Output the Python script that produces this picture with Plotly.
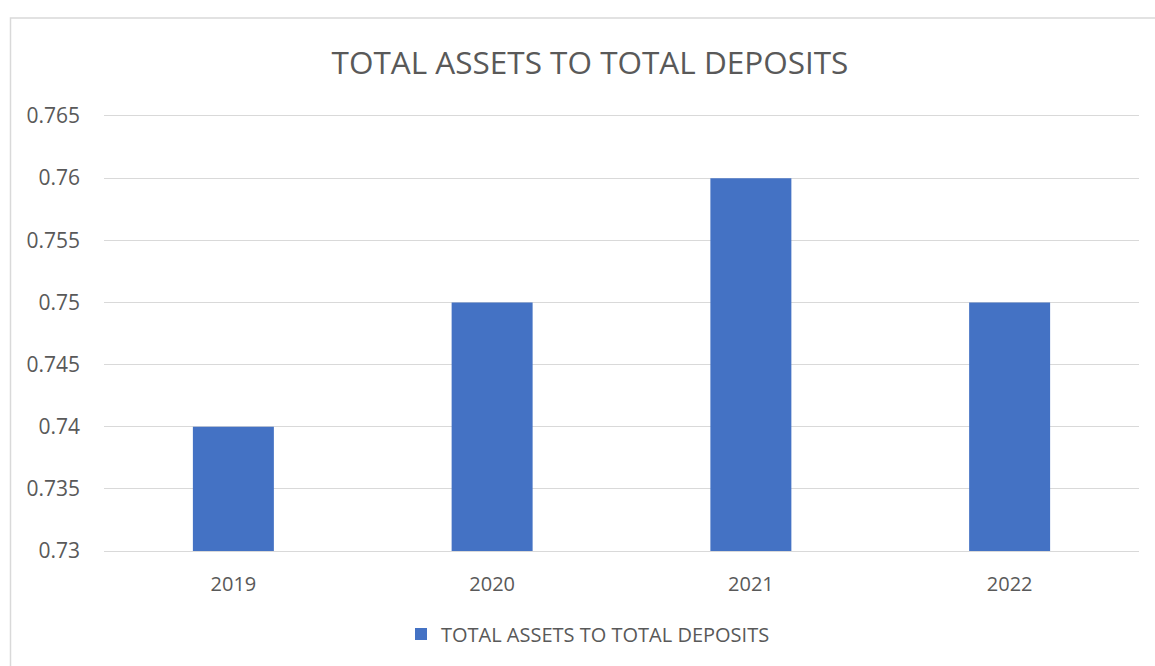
import plotly.graph_objects as go

years = ["2019", "2020", "2021", "2022"]
ratio = [0.74, 0.75, 0.76, 0.75]
y_ticks = [0.73, 0.735, 0.74, 0.745, 0.75, 0.755, 0.76, 0.765]
y_tick_text = ["0.73", "0.735", "0.74", "0.745", "0.75", "0.755", "0.76", "0.765"]
series_name = "TOTAL ASSETS TO TOTAL DEPOSITS"

W, H = 1155, 666
ML, MR, MT, MB = 104, 16, 116, 115
PW, PH = W - ML - MR, H - MT - MB


def px_x(x):
    return (x - ML) / PW


def px_y(y):
    return (H - MB - y) / PH


font_family = "Open Sans, Liberation Sans, sans-serif"
grey = "#595959"
grid = "#d9d9d9"

fig = go.Figure()
fig.add_trace(go.Bar(
    x=years, y=ratio, name=series_name,
    marker=dict(color="#4472C4", line=dict(width=0)),
))

fig.update_layout(
    width=W, height=H,
    margin=dict(l=ML, r=MR, t=MT, b=MB),
    paper_bgcolor="white", plot_bgcolor="white",
    bargap=0.687,
    font=dict(family=font_family, color=grey, size=20),
    title=dict(
        text=series_name, xref="container", x=590 / W, xanchor="center",
        y=1 - 63 / H, yanchor="middle",
        font=dict(family=font_family, size=31.5, color=grey),
    ),
    xaxis=dict(
        showgrid=False, ticks="",
        showline=True, mirror=True, linecolor=grid, linewidth=1.3,
        ticklabelstandoff=15,
        tickfont=dict(size=20, color=grey),
    ),
    yaxis=dict(
        range=[0.73, 0.765], tickvals=y_ticks, ticktext=y_tick_text,
        showgrid=True, gridcolor=grid, gridwidth=1.3,
        zeroline=False, showline=False, ticks="",
        ticklabelstandoff=23,
        tickfont=dict(size=21, color=grey),
    ),
    showlegend=True,
    legend=dict(
        orientation="h", x=px_x(588), xanchor="center",
        y=px_y(634), yanchor="middle",
        font=dict(size=20, color=grey),
        itemwidth=30,
    ),
    shapes=[dict(
        type="rect", xref="paper", yref="paper",
        x0=px_x(10.5), x1=px_x(1170), y0=px_y(690), y1=px_y(18),
        line=dict(color=grid, width=1.5), fillcolor="rgba(0,0,0,0)",
        layer="below",
    )],
)

fig.write_html("out.html")
